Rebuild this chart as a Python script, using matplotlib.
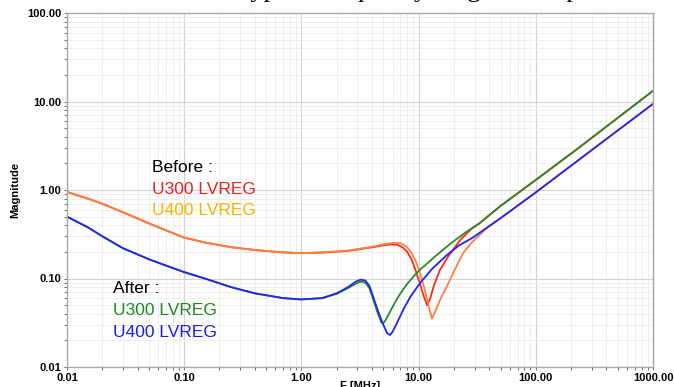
import matplotlib
matplotlib.use("Agg")
import matplotlib.pyplot as plt
from matplotlib.ticker import LogLocator, NullFormatter

# Before: U300 LVREG (red) / U400 LVREG (orange)
freq_u300_before = [0.01, 0.015, 0.02, 0.03, 0.05, 0.07, 0.1, 0.15, 0.25, 0.4, 0.7, 1.0, 1.5, 2.5,
                    4.0, 5.0, 5.8, 6.6, 7.3, 8.0, 8.7, 9.4, 10.2, 11.0, 11.8, 12.5, 13.5, 15.2, 18,
                    22.5, 28, 33, 50, 100, 225, 1000]
mag_u300_before = [0.95, 0.8, 0.7, 0.56, 0.42, 0.35, 0.29, 0.255, 0.226, 0.21, 0.197, 0.194, 0.196,
                   0.205, 0.225, 0.237, 0.243, 0.24, 0.225, 0.2, 0.165, 0.125, 0.09, 0.065, 0.05,
                   0.058, 0.083, 0.125, 0.18, 0.27, 0.36, 0.42, 0.66, 1.3, 2.9, 13.2]

freq_u400_before = [0.01, 0.015, 0.02, 0.03, 0.05, 0.07, 0.1, 0.15, 0.25, 0.4, 0.7, 1.0, 1.5, 2.5,
                    4.0, 5.0, 6.2, 7.0, 7.8, 8.6, 9.4, 10.2, 11.0, 12.0, 13.0, 14.0, 15.5, 17.4,
                    20, 24, 28, 33, 40, 50, 100, 308, 1000]
mag_u400_before = [0.95, 0.8, 0.7, 0.56, 0.42, 0.35, 0.29, 0.255, 0.226, 0.21, 0.197, 0.194, 0.197,
                   0.207, 0.228, 0.243, 0.253, 0.25, 0.232, 0.2, 0.16, 0.12, 0.085, 0.053, 0.035,
                   0.044, 0.06, 0.081, 0.12, 0.194, 0.25, 0.31, 0.39, 0.48, 0.94, 2.9, 9.4]

# After: U300 LVREG (green) / U400 LVREG (blue)
freq_u300_after = [0.01, 0.015, 0.02, 0.03, 0.05, 0.07, 0.1, 0.15, 0.25, 0.4, 0.7, 1.0, 1.5, 2.0,
                   2.5, 2.9, 3.2, 3.5, 3.8, 4.1, 4.5, 4.8, 5.0, 5.3, 5.7, 6.2, 6.9, 8.0, 9.2, 10.3,
                   12, 14, 18.5, 25, 33, 50, 100, 225, 1000]
mag_u300_after = [0.5, 0.38, 0.3, 0.22, 0.165, 0.14, 0.118, 0.1, 0.08, 0.068, 0.06, 0.058, 0.06,
                  0.067, 0.078, 0.087, 0.092, 0.09, 0.078, 0.058, 0.04, 0.032, 0.031, 0.035, 0.042,
                  0.052, 0.066, 0.087, 0.108, 0.126, 0.15, 0.18, 0.245, 0.33, 0.42, 0.66, 1.3,
                  2.9, 13.2]

freq_u400_after = [0.01, 0.015, 0.02, 0.03, 0.05, 0.07, 0.1, 0.15, 0.25, 0.4, 0.7, 1.0, 1.5, 2.0,
                   2.5, 2.9, 3.2, 3.5, 3.8, 4.1, 4.5, 5.0, 5.4, 5.7, 6.0, 6.5, 7.5, 8.5, 10.3, 13,
                   17.5, 22, 29, 50, 100, 308, 1000]
mag_u400_after = [0.5, 0.38, 0.3, 0.22, 0.165, 0.14, 0.118, 0.1, 0.08, 0.068, 0.06, 0.058, 0.06,
                  0.068, 0.08, 0.092, 0.097, 0.095, 0.083, 0.062, 0.043, 0.03, 0.024, 0.023,
                  0.025, 0.031, 0.046, 0.062, 0.089, 0.128, 0.185, 0.235, 0.29, 0.48, 0.94, 2.9,
                  9.4]

x_ticks = [0.01, 0.1, 1, 10, 100, 1000]
x_tick_labels = ["0.01", "0.10", "1.00", "10.00", "100.00", "1000.00"]
y_ticks = [0.01, 0.1, 1, 10, 100]
y_tick_labels = ["0.01", "0.10", "1.00", "10.00", "100.00"]

plt.rcParams['font.family'] = ['Liberation Sans', 'DejaVu Sans']

fig = plt.figure(figsize=(6.74, 3.87), dpi=100)
ax = fig.add_axes([67 / 674, 20 / 387, 586 / 674, 354 / 387])

ax.plot(freq_u300_before, mag_u300_before, color='#ff2a1a', lw=1.3)
ax.plot(freq_u400_before, mag_u400_before, color='#ff8040', lw=1.3)
ax.plot(freq_u300_after, mag_u300_after, color='#2a8a2a', lw=1.3)
ax.plot(freq_u400_after, mag_u400_after, color='#2424f0', lw=1.3)

ax.set_xscale('log')
ax.set_yscale('log')
ax.set_xlim(0.01, 1000)
ax.set_ylim(0.01, 100)

ax.set_xticks(x_ticks)
ax.set_xticklabels(x_tick_labels, fontsize=8, fontweight='bold')
ax.set_yticks(y_ticks)
ax.set_yticklabels(y_tick_labels, fontsize=8, fontweight='bold')
ax.xaxis.set_minor_locator(LogLocator(base=10, subs=range(2, 10), numticks=20))
ax.yaxis.set_minor_locator(LogLocator(base=10, subs=range(2, 10), numticks=20))
ax.xaxis.set_minor_formatter(NullFormatter())
ax.yaxis.set_minor_formatter(NullFormatter())
ax.tick_params(which='both', length=2, width=0.6, color='#555555', pad=2)

ax.grid(True, which='major', color='#d2d2d2', lw=0.8)
ax.grid(True, which='minor', color='#ebebeb', lw=0.6)
ax.set_axisbelow(True)
for s in ax.spines.values():
    s.set_color('#a8a8a8')
    s.set_linewidth(1.0)

ax.set_xlabel('F [MHz]', fontsize=8, fontweight='bold', labelpad=-1)
ax.set_ylabel('Magnitude', fontsize=8, fontweight='bold', labelpad=5)

# annotation text
ax.text(0.145, 0.551, 'Before :', transform=ax.transAxes, fontsize=12.5, color='black')
ax.text(0.145, 0.49, 'U300 LVREG', transform=ax.transAxes, fontsize=12.5, color='#e82020')
ax.text(0.145, 0.429, 'U400 LVREG', transform=ax.transAxes, fontsize=12.5, color='#f5b400')
ax.text(0.079, 0.209, 'After :', transform=ax.transAxes, fontsize=12.5, color='black')
ax.text(0.079, 0.147, 'U300 LVREG', transform=ax.transAxes, fontsize=12.5, color='#1a8a1a')
ax.text(0.079, 0.085, 'U400 LVREG', transform=ax.transAxes, fontsize=12.5, color='#1a1aee')

# cut-off caption at the very top
fig.text(243 / 674, 1.0 + 3 / 387, 'typical frequency range of the p', fontsize=19,
         family='Liberation Serif', ha='left', va='baseline')

fig.savefig('out.png', dpi=100)
